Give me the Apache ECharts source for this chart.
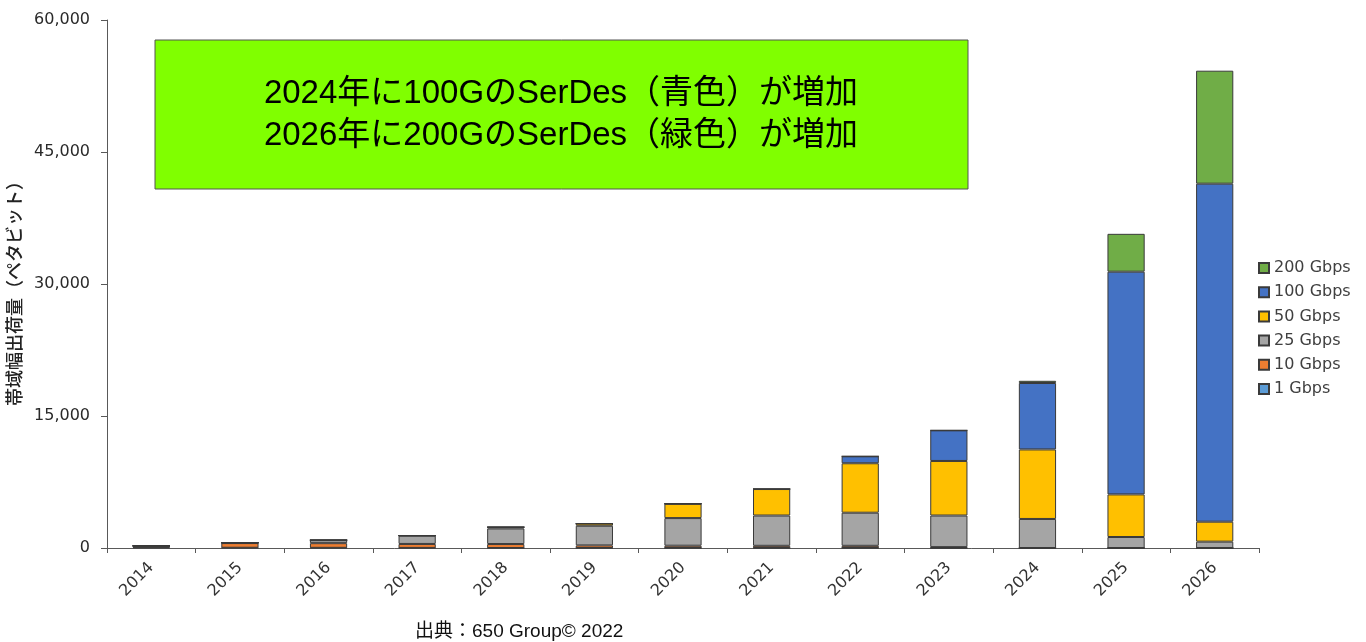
<!DOCTYPE html>
<html>
<head>
<meta charset="utf-8">
<script src="https://cdn.jsdelivr.net/npm/echarts@6/dist/echarts.min.js"></script>
<style>
html,body{margin:0;padding:0;background:#fff;}
#chart{width:1366px;height:642px;}
</style>
</head>
<body>
<div id="chart"></div>
<script>
const years = ['2014','2015','2016','2017','2018','2019','2020','2021','2022','2023','2024','2025','2026'];
const s1G   = [60, 30, 20, 10, 0, 0, 0, 0, 0, 0, 0, 0, 0];
const s10G  = [190, 530, 530, 450, 450, 300, 260, 250, 250, 100, 0, 0, 0];
const s25G  = [0, 40, 340, 950, 1770, 2230, 3140, 3440, 3760, 3590, 3300, 1250, 720];
const s50G  = [0, 0, 0, 0, 150, 250, 1630, 3010, 5620, 6200, 7900, 4840, 2270];
const s100G = [0, 0, 0, 0, 0, 0, 0, 0, 790, 3480, 7550, 25310, 38410];
const s200G = [0, 0, 0, 0, 0, 0, 0, 0, 0, 0, 250, 4300, 12840];
const yTicks = [0, 15000, 30000, 45000, 60000];
const legendOrder = ['200 Gbps','100 Gbps','50 Gbps','25 Gbps','10 Gbps','1 Gbps'];
const noteLines = ['2024年に100GのSerDes（青色）が増加', '2026年に200GのSerDes（緑色）が増加'];
const yAxisName = '帯域幅出荷量（ペタビット）';
const sourceText = '出典：650 Group© 2022';

const colors = {'1 Gbps':'#5B9BD5','10 Gbps':'#ED7D31','25 Gbps':'#A5A5A5','50 Gbps':'#FFC000','100 Gbps':'#4472C4','200 Gbps':'#70AD47'};
const seriesData = [['1 Gbps',s1G],['10 Gbps',s10G],['25 Gbps',s25G],['50 Gbps',s50G],['100 Gbps',s100G],['200 Gbps',s200G]];

const chart = echarts.init(document.getElementById('chart'));
const baseFont = '"DejaVu Sans", Verdana, sans-serif';
const jpFont = '"Liberation Sans", "Noto Sans CJK JP", sans-serif';
chart.setOption({
  animation:false,
  grid:{left:107,right:107,top:20,bottom:94, containLabel:false, outerBoundsMode:'none'},
  legend:{
    data:legendOrder, orient:'vertical', left:1253, top:255,
    itemWidth:10, itemHeight:10, itemGap:8.2,
    icon:'rect',
    textStyle:{fontSize:16, color:'#404040', fontFamily:baseFont}
  },
  xAxis:{
    type:'category', data:years,
    axisLine:{lineStyle:{color:'#595959', width:1}},
    axisTick:{show:true, alignWithLabel:false, length:5, lineStyle:{color:'#595959'}},
    axisLabel:{rotate:45, fontSize:16, color:'#333', fontFamily:baseFont, margin:17}
  },
  yAxis:{
    type:'value', min:0, max:60000, interval:15000,
    name:yAxisName, nameLocation:'middle', nameGap:75, nameRotate:90,
    nameTextStyle:{fontSize:18, color:'#222', fontFamily:'"Noto Sans CJK JP"', fontWeight:500, padding:[0,10,0,0]},
    axisLine:{show:true, lineStyle:{color:'#595959', width:1}},
    axisTick:{show:true, length:6, lineStyle:{color:'#595959'}},
    splitLine:{show:false},
    axisLabel:{fontSize:16, color:'#2a2a2a', fontFamily:baseFont, margin:17,
      formatter:v => yTicks.includes(v) ? v.toLocaleString('en-US') : ''}
  },
  series: seriesData.map(([name,data]) => ({
    name, type:'bar', stack:'total', data, barWidth:'42%',
    itemStyle:{color:colors[name], borderColor:'#3a3a3a', borderWidth:1}
  })),
  graphic:[
    {type:'rect', x:155, y:40, shape:{width:813, height:149},
     style:{fill:'#80FF00', stroke:'#555', lineWidth:1}, z:10},
    {type:'text', x:561, y:94, z:11,
     style:{text:noteLines[0], fill:'#000', font:'33px ' + jpFont, textAlign:'center', textVerticalAlign:'middle'}},
    {type:'text', x:561, y:136, z:11,
     style:{text:noteLines[1], fill:'#000', font:'33px ' + jpFont, textAlign:'center', textVerticalAlign:'middle'}},
    {type:'text', x:415, y:632, z:11,
     style:{text:sourceText, fill:'#111', font:'19px ' + jpFont, textVerticalAlign:'middle'}}
  ]
});
</script>
</body>
</html>
